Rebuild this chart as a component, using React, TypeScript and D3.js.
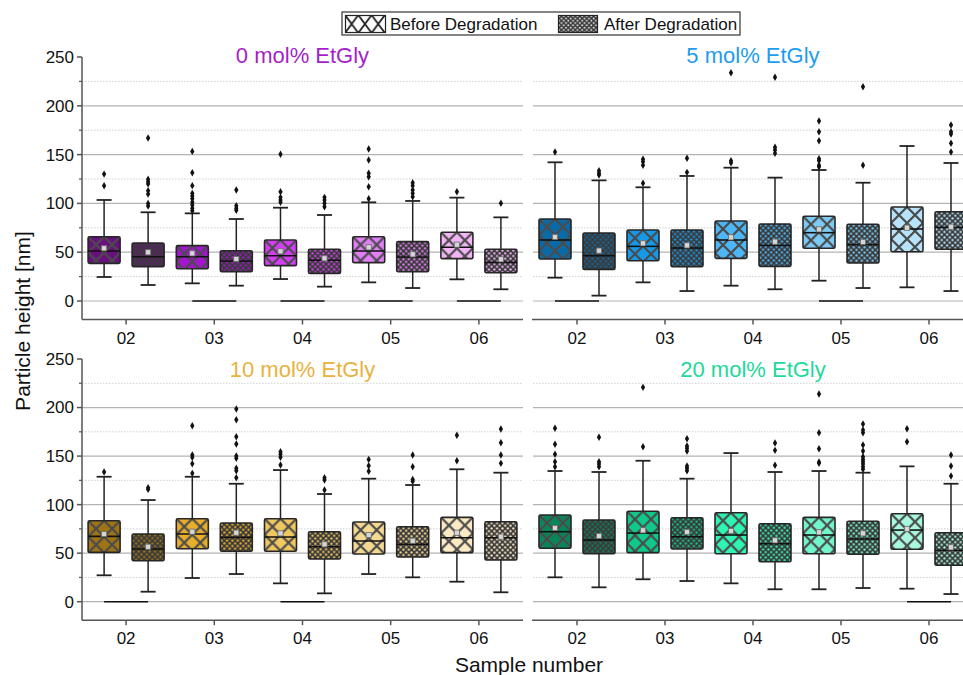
import React from "react";
import * as d3 from "d3";

const samples = ["02", "03", "04", "05", "06"];

// box rows: [whiskerLow, q1, median, q3, whiskerHigh, mean]
const mol0Before = [
  [24.6, 38.6, 51.2, 65.9, 103.5, 54.0],
  [18.1, 33.1, 45.4, 56.7, 89.8, 48.8],
  [22.5, 36.2, 46.4, 62.5, 95.6, 50.9],
  [19.1, 39.3, 51.2, 65.9, 101.1, 55.0],
  [22.2, 43.4, 55.0, 70.4, 105.9, 57.7],
];
const mol0BeforeOut = [
  [118, 130],
  [92.5, 95, 98.4, 101.1, 104.8, 107.6, 110.3, 118.2, 131.5, 153.3],
  [101.1, 103.5, 106.2, 112, 150.3],
  [104.8, 117.1, 127.4, 130.8, 144.5, 155.7],
  [112],
];
const mol0After = [
  [16.4, 35.2, 45.4, 59.4, 90.9, 49.9],
  [15.7, 30.0, 41.0, 51.5, 84.0, 43.0],
  [14.7, 28.3, 41.7, 53.0, 88.1, 43.7],
  [13.3, 30.0, 45.1, 60.8, 102.5, 47.8],
  [12.0, 29.0, 39.6, 53.0, 85.7, 42.7],
];
const mol0AfterOut = [
  [97.4, 100, 109.6, 113, 120, 122.3, 124.7, 167],
  [92.9, 95, 97.7, 113.7],
  [96.6, 100.1, 103.5, 106.2],
  [106.9, 110.3, 113.7, 118.2, 121.2],
  [100.1],
];

const mol5Before = [
  [23.9, 43.0, 62.5, 84.0, 142.1, 65.6],
  [19.1, 41.3, 56.0, 72.7, 116.5, 59.1],
  [15.7, 43.7, 62.5, 82.0, 136.6, 65.2],
  [20.8, 54.0, 70.0, 86.8, 134.2, 73.4],
  [14.0, 50.5, 73.8, 96.3, 158.8, 75.1],
];
const mol5BeforeOut = [
  [152.7],
  [120.6, 139, 142.7, 145.2],
  [141.7, 143.8, 233.9],
  [137.6, 139, 143.8, 145.8, 164.2, 173.5, 184.4],
  [],
];
const mol5After = [
  [5.5, 32.4, 46.4, 69.7, 123.6, 51.6],
  [10.2, 35.1, 54.3, 72.7, 128.1, 57.0],
  [12.0, 35.5, 57.0, 78.9, 126.4, 60.8],
  [13.3, 38.9, 57.7, 78.6, 121.2, 60.5],
  [10.2, 53.0, 75.5, 91.5, 141.4, 76.1],
];
const mol5AfterOut = [
  [129.1, 130.8, 133.5],
  [131.8, 146.2],
  [151.3, 154.7, 157.5, 229.2],
  [139, 219.6],
  [152.7, 161.6, 171.1, 173.5, 180.3],
];

const mol10Before = [
  [27.2, 50.8, 67.3, 83.4, 128.7, 69.7],
  [24.4, 54.6, 69.7, 85.5, 128.7, 72.1],
  [18.9, 51.9, 66.6, 85.5, 135.6, 70.4],
  [28.5, 49.1, 62.5, 82.1, 126.7, 68.7],
  [20.6, 50.5, 65.9, 86.9, 136.4, 71.1],
];
const mol10BeforeOut = [
  [133.6],
  [132.2, 142.1, 148.7, 151.1, 181.3],
  [140.8, 148.7, 151.8, 154.5],
  [134.3, 140, 146.6],
  [145.2, 171.4],
];
const mol10After = [
  [10.3, 42.2, 54.3, 69.7, 104.7, 56.6],
  [28.5, 51.9, 66.3, 81.0, 121.5, 71.1],
  [8.6, 44.0, 56.6, 72.1, 110.9, 59.1],
  [25.1, 46.0, 59.1, 77.2, 120.2, 62.8],
  [9.7, 42.9, 65.9, 82.4, 132.9, 67.0],
];
const mol10AfterOut = [
  [115.7, 117.4],
  [127.7, 134.9, 137.4, 147.7, 150, 162.4, 169.9, 187.4, 198.5],
  [115, 125.3, 127.7],
  [124, 126, 139, 151.1],
  [142.5, 151.1, 163.7, 177.9],
];

const mol20Before = [
  [25.1, 55.0, 72.1, 89.3, 134.6, 75.9],
  [23.1, 50.5, 70.7, 93.1, 145.2, 73.5],
  [18.9, 49.4, 68.7, 91.7, 153.1, 72.8],
  [12.8, 49.4, 68.7, 86.9, 134.6, 71.5],
  [13.4, 54.0, 73.8, 90.6, 139.4, 75.0],
];
const mol20BeforeOut = [
  [139, 144.2, 151.8, 162.1, 178.6],
  [159.6, 220.8],
  [],
  [142.5, 143.9, 157.6, 174, 213.9],
  [164.8, 178.2],
];
const mol20After = [
  [14.8, 49.4, 63.5, 84.1, 133.6, 67.7],
  [21.3, 54.3, 66.9, 86.5, 126.7, 71.8],
  [12.8, 41.2, 59.7, 80.3, 133.6, 63.2],
  [14.1, 48.8, 64.6, 82.8, 132.9, 70.4],
  [7.9, 37.5, 52.9, 71.1, 121.5, 56.0],
];
const mol20AfterOut = [
  [139, 141.8, 144.2, 169.3],
  [134.9, 137.4, 139.8, 155.2, 158, 160.3, 167.9],
  [140.5, 155.9, 163.4],
  [136.4, 139, 141.8, 144.2, 146.6, 149.3, 155.2, 161.4, 174, 176.8, 183],
  [129.5, 139.8, 151.1],
];

// empty samples drawn as flat lines at zero
const mol0Zero = ["03", "04", "05", "06"];
const mol5Zero = ["02", "05"];
const mol10Zero = ["02", "04"];
const mol20Zero = ["06"];

const titles = ["0 mol% EtGly", "5 mol% EtGly", "10 mol% EtGly", "20 mol% EtGly"];
const titleColors = ["#a51fc9", "#1e9cf0", "#e8b23e", "#1fd89b"];
const shades = [
  ["#6a0f7e", "#a514d0", "#d43ef2", "#e27ef6", "#f3b5f7"],
  ["#0a6aa8", "#1599ea", "#4db6f6", "#7ccaf6", "#b7e3fa"],
  ["#9f7414", "#e8ae2c", "#f1c860", "#f5d991", "#fbeac4"],
  ["#098659", "#0ec98b", "#2ff5b4", "#71f6cb", "#a7f8de"],
];

const yTicks = [0, 50, 100, 150, 200, 250];
const yMinor = [25, 75, 125, 175, 225];
const FONT = "'Liberation Sans', Arial, sans-serif";

type Panel = {
  key: string;
  before: number[][];
  beforeOut: number[][];
  after: number[][];
  afterOut: number[][];
  zero: string[];
  xr: [number, number];
  yr: [number, number];
  titleY: number;
  left: boolean;
};

const panels: Panel[] = [
  { key: "p0", before: mol0Before, beforeOut: mol0BeforeOut, after: mol0After, afterOut: mol0AfterOut, zero: mol0Zero, xr: [82, 523], yr: [301, 57], titleY: 63, left: true },
  { key: "p1", before: mol5Before, beforeOut: mol5BeforeOut, after: mol5After, afterOut: mol5AfterOut, zero: mol5Zero, xr: [533, 973], yr: [301, 57], titleY: 63, left: false },
  { key: "p2", before: mol10Before, beforeOut: mol10BeforeOut, after: mol10After, afterOut: mol10AfterOut, zero: mol10Zero, xr: [82, 523], yr: [601.7, 359], titleY: 377, left: true },
  { key: "p3", before: mol20Before, beforeOut: mol20BeforeOut, after: mol20After, afterOut: mol20AfterOut, zero: mol20Zero, xr: [533, 973], yr: [601.7, 359], titleY: 377, left: false },
];

const BOX_W = 32;
const OFFSET = 22;
const outlierPath = d3.symbol().type(d3.symbolDiamond).size(16)() as string;

function PanelView({ p, idx }: { p: Panel; idx: number }) {
  const x = d3.scaleBand().domain(samples).range(p.xr);
  const y = d3.scaleLinear().domain([0, 250]).range(p.yr);
  const axisY = y(-19);
  const gridEnd = p.left ? p.xr[1] : 963;
  const cx = (s: string) => (x(s) as number) + x.bandwidth() / 2;

  const drawBox = (row: number[], out: number[], c: number, kind: "b" | "a", i: number) => {
    const [lo, q1, med, q3, hi, mean] = row;
    const left = c - BOX_W / 2;
    const top = y(q3);
    const pid = `${p.key}-${kind}-${i}`;
    const color = shades[idx][i];
    return (
      <g key={pid}>
        <defs>
          {kind === "b" ? (
            <pattern id={pid} patternUnits="userSpaceOnUse" x={left} y={top} width={16} height={16}>
              <rect width={16} height={16} fill={color} />
              <path d="M0,0L16,16M16,0L0,16" stroke="#4b4b4b" strokeWidth={2.2} />
            </pattern>
          ) : (
            <pattern id={pid} patternUnits="userSpaceOnUse" x={left} y={top} width={5.4} height={5.4}>
              <rect width={5.4} height={5.4} fill="#3b3b3b" />
              <circle cx={1.35} cy={1.35} r={1.15} fill={color} />
              <circle cx={4.05} cy={4.05} r={1.15} fill={color} />
            </pattern>
          )}
        </defs>
        <line x1={c} x2={c} y1={y(hi)} y2={y(q3)} stroke="#222" strokeWidth={1.5} />
        <line x1={c} x2={c} y1={y(q1)} y2={y(lo)} stroke="#222" strokeWidth={1.5} />
        <line x1={c - 7.5} x2={c + 7.5} y1={y(hi)} y2={y(hi)} stroke="#222" strokeWidth={1.8} />
        <line x1={c - 7.5} x2={c + 7.5} y1={y(lo)} y2={y(lo)} stroke="#222" strokeWidth={1.8} />
        <rect x={left} y={top} width={BOX_W} height={y(q1) - top} rx={1.5} fill={`url(#${pid})`} stroke="#262626" strokeWidth={1.6} />
        <line x1={left} x2={left + BOX_W} y1={y(med)} y2={y(med)} stroke="#111" strokeWidth={1.6} />
        <rect x={c - 2.6} y={y(mean) - 2.6} width={5.2} height={5.2} fill="#d6d6d6" stroke="#6a6a6a" strokeWidth={0.8} />
        {out.map((v, k) => (
          <path key={k} d={outlierPath} transform={`translate(${c},${y(v)})`} fill="#111" />
        ))}
      </g>
    );
  };

  return (
    <g>
      {yMinor.map((t) => (
        <line key={"m" + t} x1={p.xr[0]} x2={gridEnd} y1={y(t)} y2={y(t)} stroke="#cfcfcf" strokeWidth={1} strokeDasharray="1.5,1.5" />
      ))}
      {yTicks.filter((t) => t < 250).map((t) => (
        <line key={"g" + t} x1={p.xr[0]} x2={gridEnd} y1={y(t)} y2={y(t)} stroke="#b3b3b3" strokeWidth={1.2} />
      ))}
      <line x1={p.xr[0] - (p.left ? 0 : 1)} x2={gridEnd} y1={axisY} y2={axisY} stroke="#555" strokeWidth={1.5} />
      {samples.map((s) => (
        <g key={s}>
          <line x1={cx(s)} x2={cx(s)} y1={axisY} y2={axisY + 5} stroke="#555" strokeWidth={1.5} />
          <text x={cx(s)} y={axisY + 24} textAnchor="middle" fontSize={17} fill="#111" fontFamily={FONT}>{s}</text>
        </g>
      ))}
      {p.left && (
        <g>
          <line x1={p.xr[0]} x2={p.xr[0]} y1={axisY} y2={y(250)} stroke="#555" strokeWidth={1.5} />
          {yTicks.map((t) => (
            <g key={t}>
              <line x1={p.xr[0] - 5} x2={p.xr[0]} y1={y(t)} y2={y(t)} stroke="#555" strokeWidth={1.5} />
              <text x={p.xr[0] - 8} y={y(t)} dy="0.35em" textAnchor="end" fontSize={17} fill="#111" fontFamily={FONT}>{t}</text>
            </g>
          ))}
          {yMinor.map((t) => (
            <line key={"mt" + t} x1={p.xr[0] - 3} x2={p.xr[0]} y1={y(t)} y2={y(t)} stroke="#555" strokeWidth={1.2} />
          ))}
        </g>
      )}
      <text x={(p.xr[0] + p.xr[1]) / 2} y={p.titleY} textAnchor="middle" fontSize={22} fill={titleColors[idx]} fontFamily={FONT}>
        {titles[idx]}
      </text>
      {p.zero.map((s) => (
        <line key={"z" + s} x1={cx(s) - 22} x2={cx(s) + 22} y1={y(0)} y2={y(0)} stroke="#111" strokeWidth={1.6} />
      ))}
      {samples.map((s, i) => drawBox(p.before[i], p.beforeOut[i], cx(s) - OFFSET, "b", i))}
      {samples.map((s, i) => drawBox(p.after[i], p.afterOut[i], cx(s) + OFFSET, "a", i))}
    </g>
  );
}

export default function App() {
  return (
    <svg width={963} height={675} style={{ position: "absolute", left: 0, top: 0, background: "#fff" }} fontFamily={FONT}>
      <defs>
        <pattern id="legB" patternUnits="userSpaceOnUse" x={345} y={15} width={13.3} height={18}>
          <rect width={13.3} height={18} fill="#fff" />
          <path d="M0,0L13.3,18M13.3,0L0,18" stroke="#222" strokeWidth={1.8} />
        </pattern>
        <pattern id="legA" patternUnits="userSpaceOnUse" x={558} y={15} width={4.6} height={4.6}>
          <rect width={4.6} height={4.6} fill="#3b3b3b" />
          <circle cx={1.15} cy={1.15} r={1} fill="#e6e6e6" />
          <circle cx={3.45} cy={3.45} r={1} fill="#e6e6e6" />
        </pattern>
      </defs>
      {panels.map((p, i) => (
        <PanelView key={p.key} p={p} idx={i} />
      ))}
      <g>
        <rect x={342} y={12} width={398} height={23} fill="#fff" stroke="#333" strokeWidth={1.2} />
        <rect x={345.5} y={15.5} width={40} height={17} fill="url(#legB)" stroke="#222" strokeWidth={1.2} />
        <text x={390} y={30} fontSize={17} fill="#111">Before Degradation</text>
        <rect x={558.5} y={15.5} width={39} height={17} fill="url(#legA)" stroke="#222" strokeWidth={1.2} />
        <text x={604} y={30} fontSize={17} fill="#111">After Degradation</text>
      </g>
      <text transform="translate(30,321) rotate(-90)" textAnchor="middle" fontSize={21} fill="#111">
        Particle height [nm]
      </text>
      <text x={529} y={672} textAnchor="middle" fontSize={21} fill="#111">Sample number</text>
    </svg>
  );
}
